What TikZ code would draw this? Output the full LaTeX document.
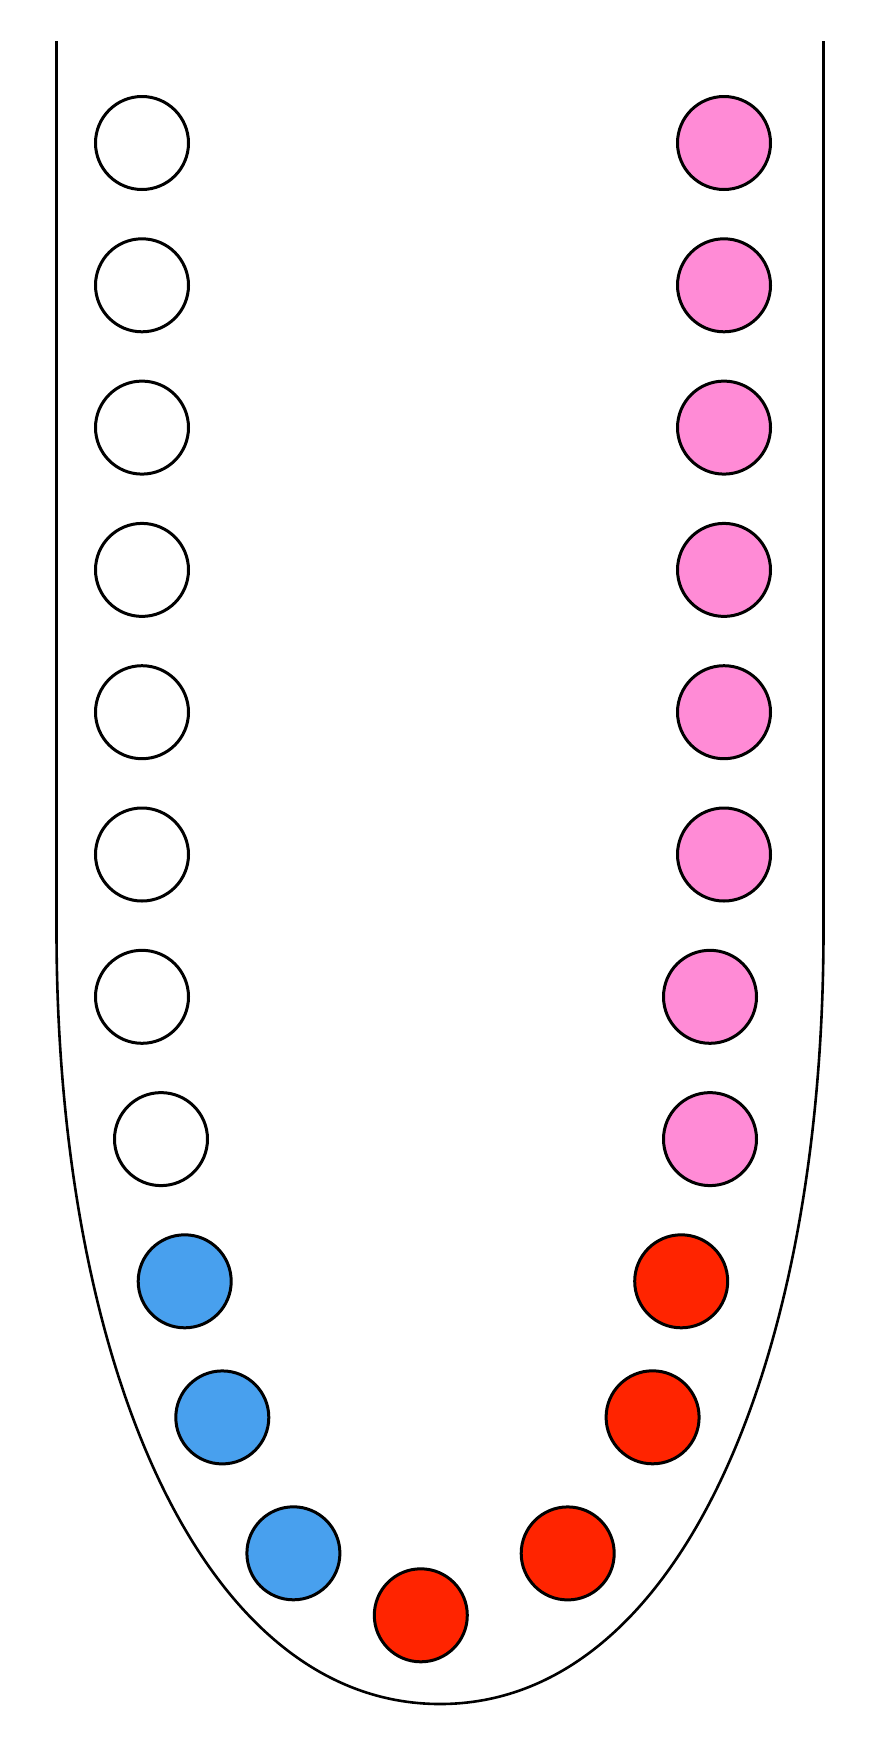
\documentclass[tikz,border=0pt]{standalone}
\definecolor{seatpink}{HTML}{FF8BD6}
\definecolor{seatblue}{HTML}{48A0EE}
\definecolor{seatred}{HTML}{FF2400}
\tikzset{
  seat/.style={circle, draw=black, line width=3pt, minimum size=93pt, inner sep=0pt},
  wall/.style={draw=black, line width=2.6pt}
}
\begin{document}
\begin{tikzpicture}[x=1pt,y=-1pt]
\fill[white] (0,0) rectangle (880,1748);
\useasboundingbox (0,0) rectangle (880,1748);
% bowl outline
\coordinate (tl) at (56.5,41);
\coordinate (ls) at (56.5,930);
\coordinate (bot) at (440,1704);
\coordinate (rs) at (823.5,930);
\coordinate (tr) at (823.5,41);
\draw[wall] (tl) -- (ls) .. controls (56.5,1360) and (200,1704) .. (bot)
  .. controls (680,1704) and (823.5,1360) .. (rs) -- (tr);
% white seats (left column)
\node[seat, fill=white] (w1) at (142,143) {};
\node[seat, fill=white] (w2) at (142,285.3) {};
\node[seat, fill=white] (w3) at (142,427.6) {};
\node[seat, fill=white] (w4) at (142,569.9) {};
\node[seat, fill=white] (w5) at (142,712.2) {};
\node[seat, fill=white] (w6) at (142,854.5) {};
\node[seat, fill=white] (w7) at (142,996.8) {};
\node[seat, fill=white] (w8) at (161,1139.1) {};
% pink seats (right column)
\node[seat, fill=seatpink] (p1) at (724,143) {};
\node[seat, fill=seatpink] (p2) at (724,285.3) {};
\node[seat, fill=seatpink] (p3) at (724,427.6) {};
\node[seat, fill=seatpink] (p4) at (724,569.9) {};
\node[seat, fill=seatpink] (p5) at (724,712.2) {};
\node[seat, fill=seatpink] (p6) at (724,854.5) {};
\node[seat, fill=seatpink] (p7) at (710,996.8) {};
\node[seat, fill=seatpink] (p8) at (710,1139.1) {};
% blue seats
\node[seat, fill=seatblue] (b1) at (184.7,1281.3) {};
\node[seat, fill=seatblue] (b2) at (222.3,1417.4) {};
\node[seat, fill=seatblue] (b3) at (293.4,1553.3) {};
% red seats
\node[seat, fill=seatred] (r1) at (681.2,1281.3) {};
\node[seat, fill=seatred] (r2) at (652.6,1417.3) {};
\node[seat, fill=seatred] (r3) at (567.7,1553.4) {};
\node[seat, fill=seatred] (r4) at (420.8,1615.3) {};
\end{tikzpicture}
\end{document}
